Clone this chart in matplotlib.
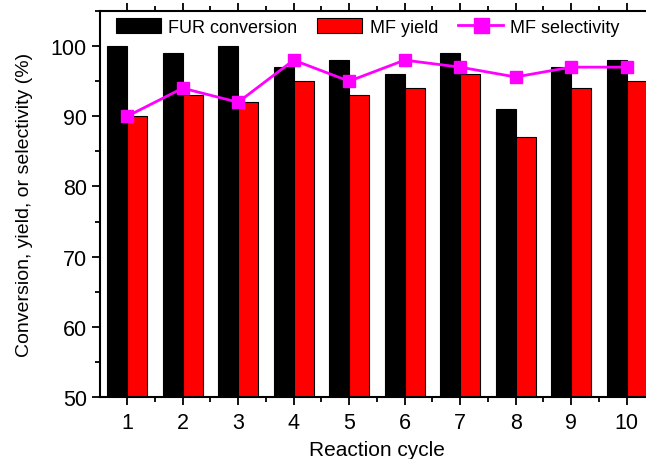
import matplotlib
matplotlib.use("Agg")
import matplotlib.pyplot as plt
import numpy as np
from matplotlib.ticker import MultipleLocator

plt.rcParams['font.family'] = ['Liberation Sans', 'DejaVu Sans']

cycles = [1, 2, 3, 4, 5, 6, 7, 8, 9, 10]
fur_conversion = [100, 99, 100, 97, 98, 96, 99, 91, 97, 98]
mf_yield = [90, 93, 92, 95, 93, 94, 96, 87, 94, 95]
mf_selectivity = [90, 94, 92, 98, 95, 98, 97, 95.6, 97, 97]

fig = plt.figure(figsize=(6.46, 4.6), dpi=100)
ax = fig.add_axes([0.1548, 0.1348, 0.858, 0.8391])

x = np.array(cycles)
w = 0.36
b1 = ax.bar(x - w/2, np.array(fur_conversion) - 50, w, bottom=50, color='black',
            edgecolor='black', linewidth=0.8, label='FUR conversion', zorder=2)
b2 = ax.bar(x + w/2, np.array(mf_yield) - 50, w, bottom=50, color='#ff0000',
            edgecolor='black', linewidth=0.8, label='MF yield', zorder=2)
l1, = ax.plot(x, mf_selectivity, color='#ff00ff', marker='s', markersize=9,
              linewidth=2, label='MF selectivity', zorder=3)

ax.set_xlim(0.51, 10.5)
ax.set_ylim(50, 105)
ax.set_xticks(cycles)
ax.xaxis.set_minor_locator(MultipleLocator(0.5))
ax.yaxis.set_major_locator(MultipleLocator(10))
ax.yaxis.set_minor_locator(MultipleLocator(5))
ax.tick_params(which='both', direction='out', top=True, right=False, labelsize=15.5, width=1.3)
ax.tick_params(which='major', length=6)
ax.tick_params(which='minor', length=3.5)
ax.tick_params(axis='x', which='major', pad=5)
for s in ax.spines.values():
    s.set_linewidth(1.5)

ax.set_xlabel('Reaction cycle', fontsize=15, labelpad=5)
ax.set_ylabel('Conversion, yield, or selectivity (%)', fontsize=14)
ax.yaxis.set_label_coords(-0.121, 0.5)

ax.legend([b1, b2, l1], ['FUR conversion', 'MF yield', 'MF selectivity'],
          loc='upper left', bbox_to_anchor=(116/646, 1 - 19/460),
          bbox_transform=fig.transFigure, ncol=3, frameon=False,
          fontsize=13, handlelength=2.5, handleheight=0.94, columnspacing=1.1,
          handletextpad=0.4, borderaxespad=0, borderpad=0, markerscale=1.2)

fig.savefig('out.png', dpi=100)
